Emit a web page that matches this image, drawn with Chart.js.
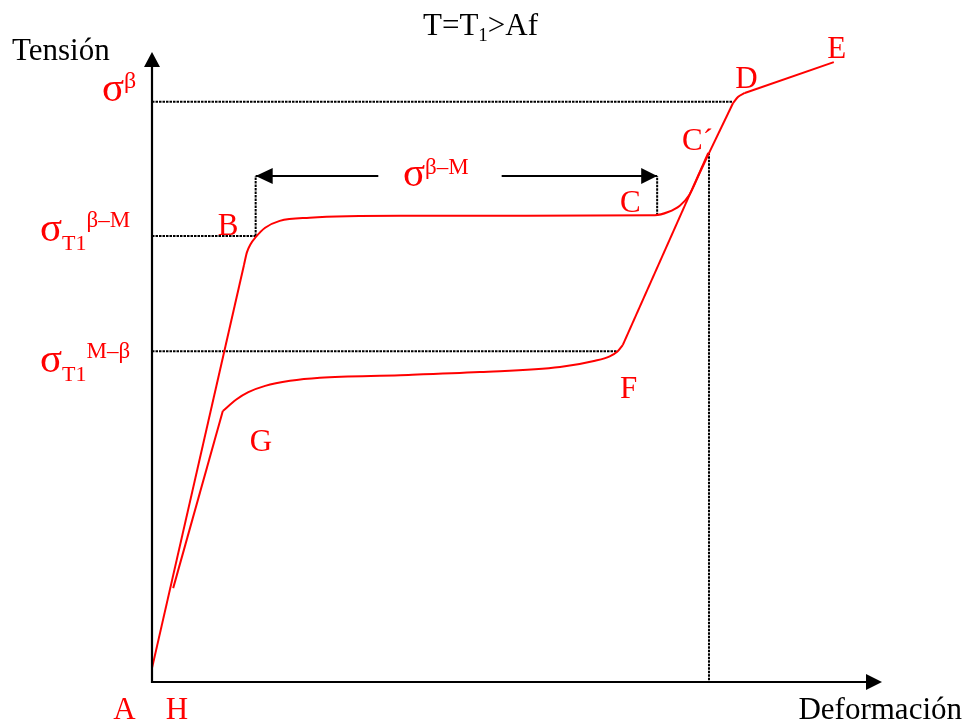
<!DOCTYPE html>
<html><head><meta charset="utf-8">
<script src="https://cdn.jsdelivr.net/npm/chart.js@4.4.1/dist/chart.umd.min.js"></script>
<style>html,body{margin:0;padding:0;background:#fff;overflow:hidden}#wrap{width:967px;height:725px}</style>
</head><body><div id="wrap"><canvas id="c" width="967" height="725"></canvas></div>
<script>
// ---- data (strain units, stress units; both arbitrary 0..10) ----
const loadingX = [0.00, 1.26, 1.30, 1.35, 1.42, 1.55, 1.75, 2.16, 3.40, 4.77, 6.89, 7.07, 7.23, 7.36, 7.51, 7.62, 7.96, 8.03, 8.12, 9.34];
const loadingY = [0.22, 6.62, 6.82, 6.95, 7.06, 7.21, 7.32, 7.37, 7.40, 7.40, 7.41, 7.46, 7.56, 7.73, 8.10, 8.37, 9.19, 9.29, 9.35, 9.84];
const loadingStraight = [0, 14, 15, 18];   // segment i -> i+1 is straight
const unloadingX = [7.62, 6.45, 6.38, 6.27, 6.07, 5.59, 4.49, 3.40, 2.30, 1.89, 1.55, 1.32, 1.15, 0.97, 0.29];
const unloadingY = [8.40, 5.35, 5.25, 5.17, 5.10, 5.00, 4.92, 4.87, 4.83, 4.78, 4.70, 4.60, 4.48, 4.30, 1.49];
const unloadingStraight = [0, 13];
// characteristic levels
const sigmaBeta = 9.21, xD = 7.96;
const sigmaBM = 7.08, xB = 1.42;
const sigmaMB = 5.25, xF = 6.38;
const xC = 6.92, yC = 7.41;
const xCp = 7.63, yCp = 8.40;
const arrowLevel = 8.03, arrowGapL = 3.10, arrowGapR = 4.79;
// point labels
const pointNames = ['A', 'H', 'B', 'C', 'C\u00B4', 'D', 'E', 'F', 'G'];
const pointLabelX = [-0.53, 0.19, 0.90, 6.41, 7.26, 7.99, 9.25, 6.41, 1.34];
const pointLabelY = [-0.59, -0.59, 7.09, 7.46, 8.44, 9.43, 9.90, 4.51, 3.67];

const RED = '#ff0000';
const SERIF = '"Liberation Serif","Times New Roman",serif';
const xy = (xs, ys) => xs.map((v, i) => ({x: v, y: ys[i]}));
const dotted = (pts) => ({data: pts, showLine: true, borderColor: '#000', borderWidth: 2, borderDash: [2.5, 1], pointRadius: 0, tension: 0});
const solid = (pts) => ({data: pts, showLine: true, borderColor: '#000', borderWidth: 2, pointRadius: 0, tension: 0});

// split a branch into straight segments (tension 0) and smooth runs (monotone)
function branch(xs, ys, straight) {
  const pts = xy(xs, ys), out = [];
  let run = [pts[0]];
  for (let i = 0; i < pts.length - 1; i++) {
    if (straight.includes(i)) {
      if (run.length > 1) out.push(run);
      out.push({straight: [pts[i], pts[i + 1]]});
      run = [pts[i + 1]];
    } else run.push(pts[i + 1]);
  }
  if (run.length > 1) out.push(run);
  return out.map(p => p.straight
    ? {data: p.straight, showLine: true, borderColor: RED, borderWidth: 2, pointRadius: 0, tension: 0}
    : {data: p, showLine: true, borderColor: RED, borderWidth: 2, pointRadius: 0, cubicInterpolationMode: 'monotone'});
}

const datasets = [
  ...branch(loadingX, loadingY, loadingStraight),
  ...branch(unloadingX, unloadingY, unloadingStraight),
  dotted([{x: 0, y: sigmaBeta}, {x: xD, y: sigmaBeta}]),
  dotted([{x: 0, y: sigmaBM}, {x: xB, y: sigmaBM}]),
  dotted([{x: xB, y: sigmaBM}, {x: xB, y: arrowLevel}]),
  dotted([{x: xC, y: yC}, {x: xC, y: arrowLevel}]),
  dotted([{x: 0, y: sigmaMB}, {x: xF, y: sigmaMB}]),
  dotted([{x: xCp, y: yCp}, {x: xCp, y: 0}]),
  solid([{x: xB, y: arrowLevel}, {x: arrowGapL, y: arrowLevel}]),
  solid([{x: arrowGapR, y: arrowLevel}, {x: xC, y: arrowLevel}])
];

function tri(ctx, tip, dir, len, half) {
  ctx.beginPath();
  if (dir === 'up') { ctx.moveTo(tip[0], tip[1]); ctx.lineTo(tip[0] - half, tip[1] + len); ctx.lineTo(tip[0] + half, tip[1] + len); }
  if (dir === 'right') { ctx.moveTo(tip[0], tip[1]); ctx.lineTo(tip[0] - len, tip[1] - half); ctx.lineTo(tip[0] - len, tip[1] + half); }
  if (dir === 'left') { ctx.moveTo(tip[0], tip[1]); ctx.lineTo(tip[0] + len, tip[1] - half); ctx.lineTo(tip[0] + len, tip[1] + half); }
  ctx.closePath(); ctx.fill();
}
function rich(ctx, parts, x, base, color) {
  ctx.fillStyle = color; ctx.textBaseline = 'alphabetic'; ctx.textAlign = 'left';
  let cx = x;
  parts.forEach(p => {
    ctx.font = p.size + 'px ' + SERIF;
    ctx.fillText(p.t, cx, base + (p.dy || 0));
    cx += ctx.measureText(p.t).width + (p.gap || 0);
  });
}

const annot = {
  id: 'annot',
  afterDatasetsDraw(chart) {
    const {ctx, chartArea: a, scales: {x, y}} = chart;
    ctx.save();
    // axes
    ctx.strokeStyle = '#000'; ctx.fillStyle = '#000'; ctx.lineWidth = 2.2;
    ctx.beginPath();
    ctx.moveTo(a.left, a.top + 10); ctx.lineTo(a.left, a.bottom); ctx.lineTo(a.right - 10, a.bottom);
    ctx.stroke();
    tri(ctx, [a.left, a.top], 'up', 15, 8);
    tri(ctx, [a.right, a.bottom], 'right', 16, 8);
    // dimension arrowheads
    const ay = y.getPixelForValue(arrowLevel);
    tri(ctx, [x.getPixelForValue(xB), ay], 'left', 17, 8);
    tri(ctx, [x.getPixelForValue(xC), ay], 'right', 16, 8);
    // axis titles
    ctx.fillStyle = '#000';
    ctx.font = '31px ' + SERIF; ctx.textAlign = 'left'; ctx.textBaseline = 'alphabetic';
    ctx.fillText('Tensi\u00F3n', 12, 60);
    ctx.textAlign = 'right';
    ctx.fillText('Deformaci\u00F3n', 962, 719);
    // title
    rich(ctx, [{t: 'T=T', size: 31}, {t: '1', size: 19, dy: 6}, {t: '>Af', size: 31}], 423, 35, '#000');
    // point labels
    ctx.fillStyle = RED; ctx.textAlign = 'left'; ctx.font = '31px ' + SERIF;
    pointNames.forEach((n, i) => ctx.fillText(n, x.getPixelForValue(pointLabelX[i]), y.getPixelForValue(pointLabelY[i])));
    // stress labels
    const yb = y.getPixelForValue(sigmaBeta);
    rich(ctx, [{t: '\u03C3', size: 41}, {t: '\u03B2', size: 24, dy: -13}], 102, yb - 1, RED);
    const y1 = y.getPixelForValue(sigmaBM);
    rich(ctx, [{t: '\u03C3', size: 41}, {t: 'T1', size: 22, dy: 9}, {t: '\u03B2\u2013M', size: 23, dy: -14}], 40, y1 + 5, RED);
    const y2 = y.getPixelForValue(sigmaMB);
    rich(ctx, [{t: '\u03C3', size: 41}, {t: 'T1', size: 22, dy: 9}, {t: 'M\u2013\u03B2', size: 23, dy: -14}], 40, y2 + 21, RED);
    rich(ctx, [{t: '\u03C3', size: 41}, {t: '\u03B2\u2013M', size: 23, dy: -12}], 403, ay + 10, RED);
    ctx.restore();
  }
};

new Chart(document.getElementById('c'), {
  type: 'scatter',
  data: {datasets},
  options: {
    responsive: false, animation: false, events: [],
    layout: {padding: {left: 152, right: 85, top: 52, bottom: 43}},
    plugins: {legend: {display: false}, tooltip: {enabled: false}},
    scales: {
      x: {type: 'linear', display: false, min: 0, max: 10},
      y: {type: 'linear', display: false, min: 0, max: 10}
    },
    elements: {line: {capBezierPoints: false}}
  },
  plugins: [annot]
});
</script></body></html>
